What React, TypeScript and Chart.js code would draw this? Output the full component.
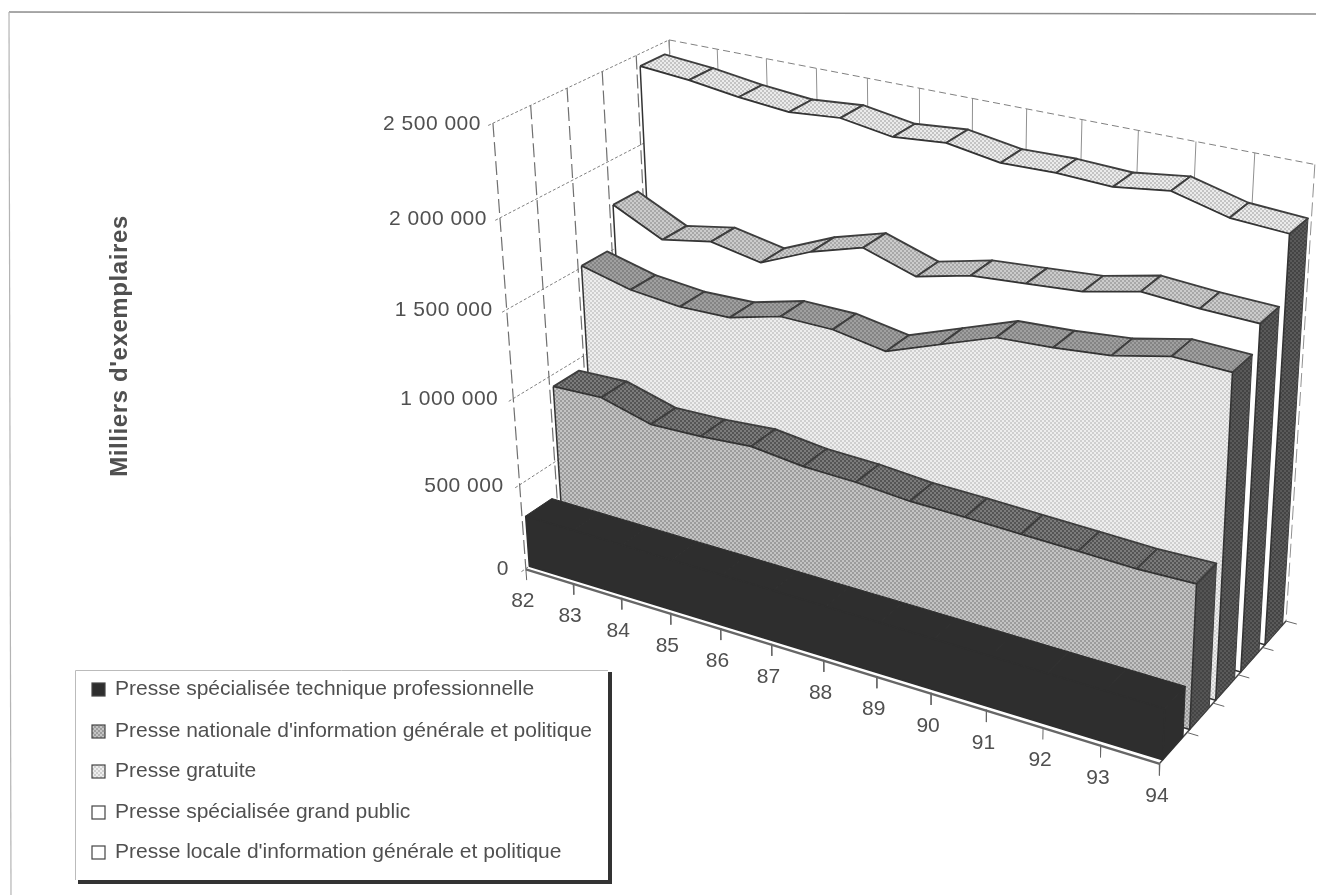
import React, { useEffect, useRef } from "react";
import { Chart, registerables } from "chart.js";
Chart.register(...registerables);

const W = 1317, H = 896;
const categories = ["82","83","84","85","86","87","88","89","90","91","92","93","94"];
const seriesNames = [
  "Presse spécialisée technique professionnelle",
  "Presse nationale d'information générale et politique",
  "Presse gratuite",
  "Presse spécialisée grand public",
  "Presse locale d'information générale et politique",
];
const yTicks = [0, 500000, 1000000, 1500000, 2000000, 2500000];
const yTickLabels = ["0", "500 000", "1 000 000", "1 500 000", "2 000 000", "2 500 000"];
const yMax = 2500000;

const techniquePro = [302000,301000,299000,297000,296000,294000,292000,291000,289000,287000,285000,284000,282000];
const nationale = [932000,942000,863000,871000,892000,858000,849000,825000,819000,810000,802000,792000,799000];
const gratuite = [1509000,1439000,1411000,1419000,1494000,1492000,1443000,1552000,1660000,1678000,1708000,1775000,1766000];
const grandPublic = [1749000,1613000,1666000,1613000,1739000,1826000,1734000,1806000,1830000,1855000,1923000,1903000,1895000];
const locale = [2432000,2408000,2369000,2343000,2367000,2322000,2348000,2301000,2308000,2295000,2335000,2259000,2241000];
const allValues = [techniquePro, nationale, gratuite, grandPublic, locale];

// Camera of the 3D box: least-squares fit of a projective map (category, value, depth) -> chart value space
function fit() {
  const pts: number[][] = [
    [0,0,0,527,568],[0,1,0,493,123],[0,1,1,668,40],[1,1,1,1315,165],[1,0,1,1283,621],[1,0,0,1157,760],
    [0,.2,0,519,485],[0,.4,0,513,400],[0,.6,0,505,312],[0,.8,0,499,220],
    [2/3,1,1,1080,120],[.5,0,0,822,658],
    [0,1,.2,532,104],[0,1,.4,568,87],[0,1,.6,604,70],[0,1,.8,637,55],
    [1,0,.2,1190,734],[1,0,.4,1213,703],[1,0,.6,1243,677],[1,0,.8,1263,647],
  ];
  const n = 11;
  const M = Array.from({length:n},()=>new Array(n+1).fill(0));
  const add = (r:number[], b:number) => { for(let i=0;i<n;i++){ for(let j=0;j<n;j++) M[i][j]+=r[i]*r[j]; M[i][n]+=r[i]*b; } };
  for (const [u,v,w,X,Y] of pts) {
    const x=X/1000,y=Y/1000;
    add([u,v,w,1,0,0,0,0,-x*u,-x*v,-x*w],x);
    add([0,0,0,0,u,v,w,1,-y*u,-y*v,-y*w],y);
  }
  for(let i=0;i<n;i++){
    let p=i; for(let k=i+1;k<n;k++) if(Math.abs(M[k][i])>Math.abs(M[p][i])) p=k;
    [M[i],M[p]]=[M[p],M[i]];
    for(let k=0;k<n;k++){ if(k===i) continue; const f=M[k][i]/M[i][i]; for(let j=i;j<=n;j++) M[k][j]-=f*M[i][j]; }
  }
  return M.map((r,i)=>r[n]/r[i]);
}
const h = fit();
function project(u:number,v:number,w:number){
  const d=h[8]*u+h[9]*v+h[10]*w+1;
  return {x:1000*(h[0]*u+h[1]*v+h[2]*w+h[3])/d, y:1000*(h[4]*u+h[5]*v+h[6]*w+h[7])/d};
}
const RIB=0.15, OFF=0.02;

function pat(a:string,b:string,cell=2){
  const c=document.createElement("canvas"); c.width=c.height=cell*2;
  const g=c.getContext("2d")!; g.fillStyle=a; g.fillRect(0,0,cell*2,cell*2); g.fillStyle=b; g.fillRect(0,0,cell,cell); g.fillRect(cell,cell,cell,cell);
  return g.createPattern(c,"repeat")!;
}

export default function App(){
  const ref=useRef<HTMLCanvasElement>(null);
  useEffect(()=>{
    const frontFill=["#2e2e2e",pat("#c4c4c4","#9c9c9c"),pat("#eeeeee","#cfcfcf"),"#ffffff","#ffffff"];
    const topFill=["#2e2e2e",pat("#7c7c7c","#555"),pat("#a0a0a0","#848484"),pat("#ccc","#a8a8a8"),pat("#ececec","#c4c4c4")];
    const sideFill=["#2e2e2e",pat("#555","#444"),pat("#5a5a5a","#444"),pat("#5a5a5a","#444"),pat("#5a5a5a","#444")];
    const ds:any[]=[];
    const line=(pts:{x:number,y:number}[],color:string,width:number,dash:number[]=[],fill?:any)=>ds.push({data:pts,showLine:true,pointRadius:0,borderColor:color,borderWidth:width,borderDash:dash,tension:0,backgroundColor:fill||"transparent",faceFill:fill,borderJoinStyle:"round"});
    const grid="#808080";
    // page frame
    line([{x:9,y:12},{x:1316,y:14}],"#8c8c8c",1.5);
    line([{x:9,y:12},{x:11,y:895}],"#b4b4b4",1.2);
    // left wall
    yTicks.forEach(t=>{const v=t/yMax; line([project(0,v,-.025),project(0,v,0),project(0,v,1)],grid,1,[3,2]);});
    for(let k=0;k<=5;k++) line([project(0,1,k/5),project(0,0,k/5)],"#707070",1.2,[14,5]);
    // back wall
    categories.forEach((_,c)=>line([project(c/12,1,1),project(c/12,0,1)],"#909090",1,c===12?[14,5]:[]));
    line([project(0,1,1),project(1,1,1)],grid,1,[7,4]);
    // floor
    line([project(1,0,0),project(1,0,1)],"#444",1.5);
    categories.forEach((_,c)=>line([project(c/12,0,0),project(c/12,-.028,0)],"#666",1));
    for(let k=1;k<=5;k++) line([project(1,0,k/5),project(1.016,0,k/5)],"#666",1);
    for(let s=4;s>=0;s--){
      const vals=allValues[s].map(x=>x/yMax); const wf=s/5+OFF,wb=wf+RIB;
      const edge=s===0?"#2e2e2e":"#3e3e3e";
      line([project(1,0,wf),project(1,vals[12],wf),project(1,vals[12],wb),project(1,0,wb),project(1,0,wf)],edge,1,[],sideFill[s]);
      for(let c=0;c<12;c++){
        const a=c/12,b=(c+1)/12;
        line([project(a,vals[c],wf),project(b,vals[c+1],wf),project(b,vals[c+1],wb),project(a,vals[c],wb),project(a,vals[c],wf)],edge,s===0?1:1.9,[],topFill[s]);
      }
      const poly=vals.map((v,c)=>project(c/12,v,wf));
      const base=[project(1,0,wf),project(0,0,wf),project(0,vals[0],wf)];
      line([...poly,...base],s===0?"#2e2e2e":"#333",1.5,[],frontFill[s]);
    }
    line([project(0,-.002,0),project(1,-.002,0)],"#666",2.5);
    ds.forEach((d,i)=>{d.order=ds.length-i;});
    const textCol="#505050";
    const plugin={
      id:"faces",
      beforeDatasetDraw(chart:any,args:any){
        const d=chart.data.datasets[args.index]; if(!d.faceFill) return;
        const c=chart.ctx; const pts=args.meta.data; c.save(); c.beginPath();
        pts.forEach((p:any,i:number)=>i?c.lineTo(p.x,p.y):c.moveTo(p.x,p.y)); c.closePath(); c.fillStyle=d.faceFill; c.fill(); c.restore();
      },
      afterDatasetsDraw(chart:any){
        const c=chart.ctx; c.save();
        c.fillStyle=textCol; c.textBaseline="middle";
        c.font='21px "Liberation Sans"'; c.textAlign="right"; (c as any).letterSpacing="0.5px";
        yTicks.forEach((t,i)=>{const v=t/yMax; const p=project(0,v,0); c.fillText(yTickLabels[i],p.x-12-(1-v)*5,p.y+1);});
        c.textAlign="center"; (c as any).letterSpacing="0px";
        categories.forEach((l,i)=>{const p=project(i/12,0,0); c.fillText(l,p.x-3,p.y+33);});
        c.save(); c.translate(120,346); c.rotate(-Math.PI/2); c.font='bold 24px "Liberation Sans"'; (c as any).letterSpacing="0.6px"; c.fillText("Milliers d'exemplaires",0,0); c.restore();
        // legend
        c.fillStyle="#fff"; c.fillRect(76,671,532,209);
        c.strokeStyle="#bbb"; c.lineWidth=1; c.beginPath(); c.moveTo(75.5,880); c.lineTo(75.5,670.5); c.lineTo(608,670.5); c.stroke();
        c.fillStyle="#333"; c.fillRect(608,672,4,212); c.fillRect(78,880,534,4);
        const rows=[689,731,771,812,852];
        seriesNames.forEach((n,i)=>{
          c.fillStyle=frontFill[i] as any; c.fillRect(92,rows[i]-6,13,13); c.strokeStyle="#444"; c.lineWidth=1.2; c.strokeRect(92,rows[i]-6,13,13);
          c.fillStyle=textCol; c.textAlign="left"; c.font='21px "Liberation Sans"'; (c as any).letterSpacing="0px"; c.fillText(n,115,rows[i]);
        });
        c.restore();
      }
    };
    const chart=new Chart(ref.current!,{type:"scatter",data:{datasets:ds},plugins:[plugin],options:{
      animation:false,responsive:false,events:[],layout:{padding:0},
      scales:{x:{type:"linear",min:0,max:W,display:false},y:{type:"linear",min:0,max:H,reverse:true,display:false}},
      plugins:{legend:{display:false},tooltip:{enabled:false}},
    } as any});
    return ()=>chart.destroy();
  },[]);
  return <canvas ref={ref} width={W} height={H} style={{position:"absolute",left:0,top:0,display:"block"}}/>;
}
